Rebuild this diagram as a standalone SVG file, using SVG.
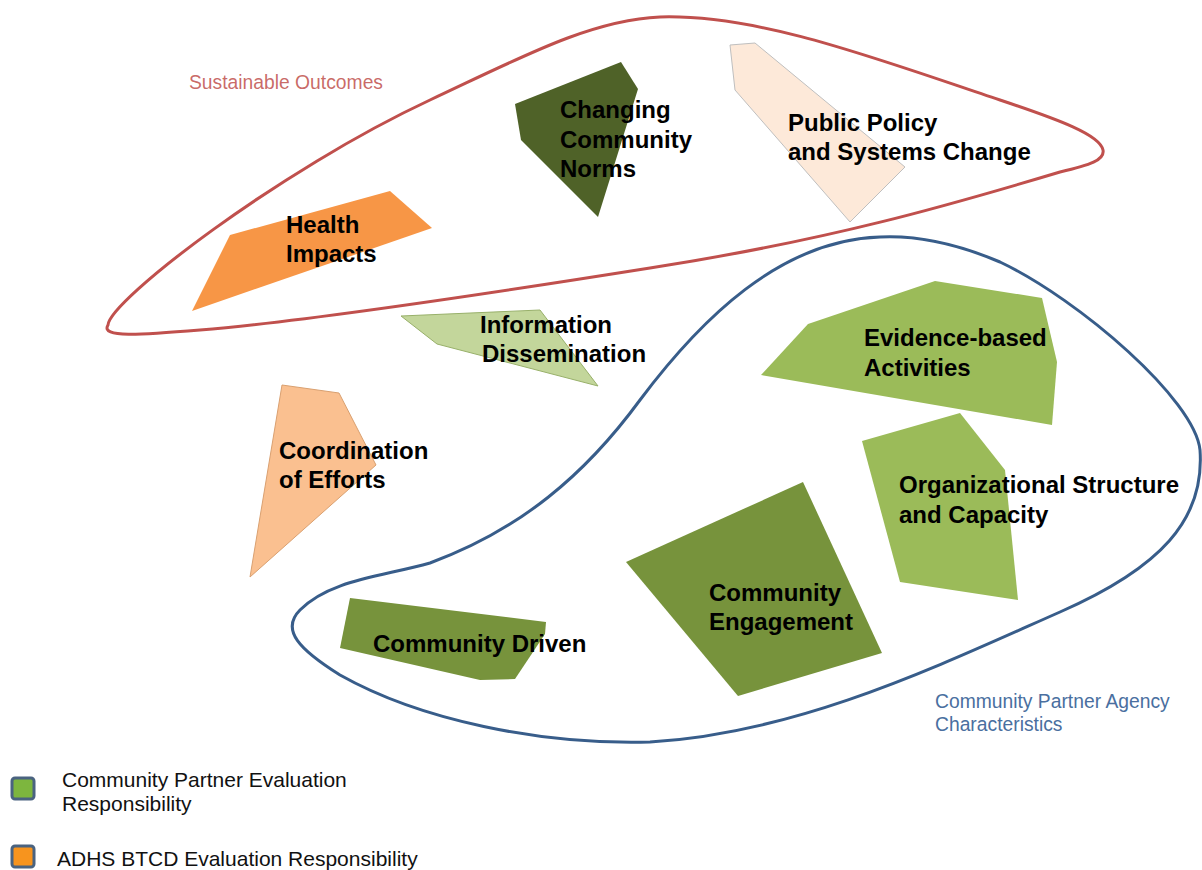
<svg xmlns="http://www.w3.org/2000/svg" width="1202" height="870" viewBox="0 0 1202 870">
<style>
.lbl{font-family:"Liberation Sans",Arial,sans-serif;font-weight:bold;font-size:24px;fill:#000}
.grp{font-family:"Liberation Sans",Arial,sans-serif;font-size:19.3px}
.leg{font-family:"Liberation Sans",Arial,sans-serif;font-size:21px;fill:#111}
.sw{stroke:#4A6380;stroke-width:3}
</style>
<rect width="1202" height="870" fill="#fff"/>
<g id="connectors">
<path id="sustainable-loop" d="M108,325 C110,300 280,170 430,100 C520,58 590,20 660,17 C760,14 880,60 1000,100 C1060,120 1100,135 1103,150 C1105,160 1090,165 1060,172 C950,205 830,240 650,268 C480,295 300,322 200,330 C140,335 100,338 108,325 Z" fill="none" stroke="#C0504D" stroke-width="3"/>
<path id="agency-loop" d="M880,237 C780,240 700,320 640,400 C585,475 520,530 430,563 C380,577 330,580 300,610 C280,630 300,650 340,675 C420,720 540,745 650,742 C800,733 940,665 1060,612 C1160,568 1205,520 1200,450 C1195,400 1080,300 1000,262 C960,245 920,235 880,237 Z" fill="none" stroke="#385D8A" stroke-width="3"/>
</g>
<g id="health-impacts">
<polygon points="230,235 390,191 432,228 192,311" fill="#F79646"/>
<text class="lbl" x="286" y="233">Health</text>
<text class="lbl" x="286" y="262">Impacts</text>
</g>
<g id="changing-norms">
<polygon points="515,104 621,62 638,89 598,217 521,140" fill="#4F6228"/>
<text class="lbl" x="560" y="118">Changing</text>
<text class="lbl" x="560" y="148">Community</text>
<text class="lbl" x="560" y="177">Norms</text>
</g>
<g id="public-policy">
<polygon points="730,45 755,43 905,167 850,222 735,90" fill="#FDE9D9" stroke="#BFBFBF" stroke-width="1"/>
<text class="lbl" x="788" y="131">Public Policy</text>
<text class="lbl" x="788" y="160">and Systems Change</text>
</g>
<g id="information-dissemination">
<polygon points="401,316 540,310 598,386 437,344" fill="#C3D69B" stroke="#98B06A" stroke-width="1"/>
<text class="lbl" x="480" y="333">Information</text>
<text class="lbl" x="482" y="362">Dissemination</text>
</g>
<g id="coordination">
<polygon points="282,385 339,393 376,465 250,577" fill="#FAC090" stroke="#D9A070" stroke-width="1"/>
<text class="lbl" x="279" y="459">Coordination</text>
<text class="lbl" x="279" y="488">of Efforts</text>
</g>
<g id="evidence-based">
<polygon points="761,375 808,324 935,281 1042,298 1057,362 1052,425" fill="#9BBB59"/>
<text class="lbl" x="864" y="346">Evidence-based</text>
<text class="lbl" x="864" y="376">Activities</text>
</g>
<g id="organizational">
<polygon points="862,441 960,413 1005,470 1018,600 900,582" fill="#9BBB59"/>
<text class="lbl" x="899" y="493">Organizational Structure</text>
<text class="lbl" x="899" y="523">and Capacity</text>
</g>
<g id="community-engagement">
<polygon points="626,562 803,482 882,653 738,696" fill="#77933C"/>
<text class="lbl" x="709" y="601">Community</text>
<text class="lbl" x="709" y="630">Engagement</text>
</g>
<g id="community-driven">
<polygon points="350,598 546,622 545,634 515,679 480,680 340,648" fill="#77933C"/>
<text class="lbl" x="373" y="652">Community Driven</text>
</g>
<g id="group-labels">
<text class="grp" x="189" y="89" fill="#C0504D" fill-opacity="0.85">Sustainable Outcomes</text>
<text class="grp" x="935" y="708" fill="#4A6FA0">Community Partner Agency</text>
<text class="grp" x="935" y="731" fill="#4A6FA0">Characteristics</text>
</g>
<g id="legend">
<rect class="sw" x="12" y="778" width="22" height="21" rx="3" fill="#7DB63E"/>
<text class="leg" x="62" y="787">Community Partner Evaluation</text>
<text class="leg" x="62" y="811">Responsibility</text>
<rect class="sw" x="12" y="846" width="22" height="21" rx="3" fill="#F7941E"/>
<text class="leg" x="57" y="866">ADHS BTCD Evaluation Responsibility</text>
</g>
</svg>
